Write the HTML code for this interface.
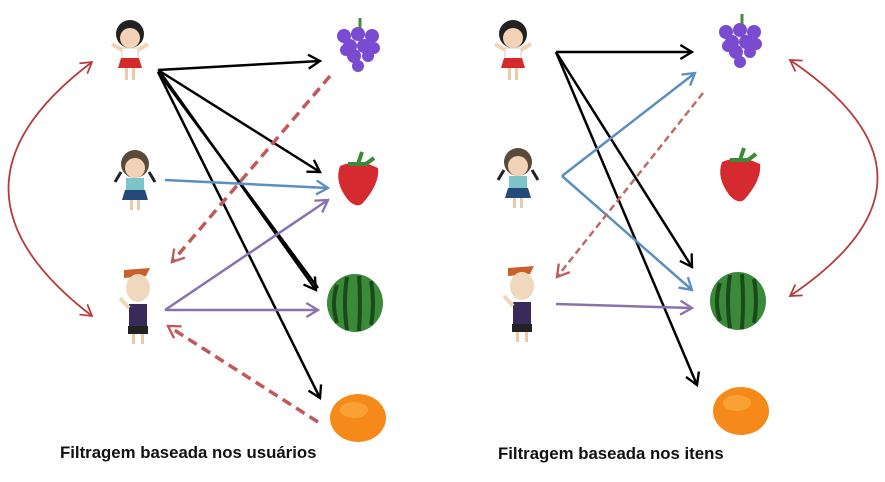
<!DOCTYPE html>
<html><head><meta charset="utf-8"><style>
html,body{margin:0;padding:0;background:#fff;width:885px;height:482px;overflow:hidden}
svg{display:block}
text{font-family:"Liberation Sans",sans-serif;font-weight:bold;font-size:16.8px;fill:#111}
</style></head><body>
<svg width="885" height="482" viewBox="0 0 885 482">
<defs>
<marker id="k" viewBox="0 0 12 12" refX="10" refY="6" markerWidth="14" markerHeight="14" orient="auto" markerUnits="userSpaceOnUse" overflow="visible"><path d="M0,0 L10,6 L0,12" fill="none" stroke="#000" stroke-width="2"/></marker>
<marker id="b" viewBox="0 0 12 12" refX="10" refY="6" markerWidth="14" markerHeight="14" orient="auto" markerUnits="userSpaceOnUse" overflow="visible"><path d="M0,0 L10,6 L0,12" fill="none" stroke="#5b8fc0" stroke-width="2"/></marker>
<marker id="p" viewBox="0 0 12 12" refX="10" refY="6" markerWidth="14" markerHeight="14" orient="auto" markerUnits="userSpaceOnUse" overflow="visible"><path d="M0,0 L10,6 L0,12" fill="none" stroke="#8a72ad" stroke-width="2"/></marker>
<marker id="r" viewBox="0 0 12 12" refX="10" refY="6" markerWidth="14" markerHeight="14" orient="auto" markerUnits="userSpaceOnUse" overflow="visible"><path d="M0,0 L10,6 L0,12" fill="none" stroke="#c05a5a" stroke-width="2"/></marker>
<marker id="c" viewBox="0 0 12 12" refX="10" refY="6" markerWidth="13" markerHeight="13" orient="auto" markerUnits="userSpaceOnUse" overflow="visible"><path d="M0,0 L10,6 L0,12" fill="none" stroke="#b83a3a" stroke-width="1.6"/></marker>
<marker id="cs" viewBox="0 0 12 12" refX="10" refY="6" markerWidth="13" markerHeight="13" orient="auto-start-reverse" markerUnits="userSpaceOnUse" overflow="visible"><path d="M0,0 L10,6 L0,12" fill="none" stroke="#b83a3a" stroke-width="1.6"/></marker>
<g id="g1">
<circle cx="0" cy="-18" r="14" fill="#222"/><circle cx="0" cy="-14" r="10" fill="#f3d2b5"/>
<rect x="-8" y="-4" width="16" height="12" fill="#fff" stroke="#ccc"/>
<path d="M-9,6 L9,6 L12,16 L-12,16Z" fill="#d62a2a"/>
<rect x="-5" y="16" width="3" height="12" fill="#e8c9a8"/><rect x="2" y="16" width="3" height="12" fill="#e8c9a8"/>
<path d="M-8,-2 L-18,-8 M8,-2 L18,-8" stroke="#f3d2b5" stroke-width="4"/>
</g>
<g id="g2">
<circle cx="0" cy="-18" r="14" fill="#5a4a3a"/><circle cx="0" cy="-14" r="10" fill="#f3d2b5"/>
<path d="M-14,-10 L-20,0 M14,-10 L20,0" stroke="#222" stroke-width="3"/>
<rect x="-9" y="-4" width="18" height="12" fill="#7cc4c8"/>
<path d="M-10,8 L10,8 L13,18 L-13,18Z" fill="#234a7a"/>
<rect x="-5" y="18" width="3" height="10" fill="#e8c9a8"/><rect x="2" y="18" width="3" height="10" fill="#e8c9a8"/>
</g>
<g id="g3">
<path d="M-14,-32 L12,-34 L8,-26 L-14,-24Z" fill="#c8602a"/>
<ellipse cx="0" cy="-14" rx="12" ry="14" fill="#f0d8bc"/>
<rect x="-9" y="2" width="18" height="22" fill="#3a2a5a"/>
<rect x="-10" y="24" width="20" height="8" fill="#222"/>
<rect x="-6" y="32" width="3" height="10" fill="#e8c9a8"/><rect x="3" y="32" width="3" height="10" fill="#e8c9a8"/>
<path d="M-9,6 L-18,-4" stroke="#f0d8bc" stroke-width="4"/>
</g>
<g id="grape">
<g fill="#7a4ad0">
<circle cx="-14" cy="-8" r="7"/><circle cx="0" cy="-10" r="7"/><circle cx="14" cy="-8" r="7"/>
<circle cx="-8" cy="2" r="7"/><circle cx="6" cy="2" r="7"/><circle cx="16" cy="4" r="6"/>
<circle cx="-4" cy="12" r="7"/><circle cx="10" cy="12" r="6"/><circle cx="0" cy="22" r="6"/><circle cx="-12" cy="6" r="6"/>
</g><path d="M2,-16 L2,-26" stroke="#4a8a3a" stroke-width="3"/>
</g>
<g id="straw">
<path d="M-18,-12 Q0,-20 20,-10 Q22,6 4,26 Q-2,30 -10,22 Q-24,4 -18,-12Z" fill="#d42a30"/>
<path d="M-10,-14 L8,-14 L16,-20 M0,-14 L4,-26" stroke="#3a8a3a" stroke-width="4" fill="none"/>
</g>
<g id="melon">
<ellipse cx="0" cy="0" rx="28" ry="29" fill="#3a8a3a"/>
<path d="M-18,-18 Q-24,0 -18,20 M-8,-26 Q-12,0 -8,27 M4,-27 Q6,0 4,28 M16,-22 Q20,0 16,22" stroke="#1a4a1a" stroke-width="4" fill="none"/>
</g>
<g id="orange"><ellipse cx="0" cy="0" rx="28" ry="24" fill="#f58a1a"/><ellipse cx="-4" cy="-8" rx="14" ry="8" fill="#fbb04a" opacity="0.6"/></g>
</defs>

<use href="#g1" x="130" y="52"/>
<use href="#g1" x="513" y="52"/>
<use href="#g2" x="135" y="182"/>
<use href="#g2" x="518" y="180"/>
<use href="#g3" x="138" y="302"/>
<use href="#g3" x="522" y="300"/>
<use href="#grape" x="358" y="44"/>
<use href="#grape" x="740" y="40"/>
<use href="#straw" x="358" y="178"/>
<use href="#straw" x="740" y="174"/>
<use href="#melon" x="355" y="303"/>
<use href="#melon" x="738" y="301"/>
<use href="#orange" x="358" y="418"/>
<use href="#orange" x="741" y="411"/>

<g fill="none" stroke-width="2.5">
<line x1="158" y1="70" x2="320" y2="61" stroke="#000" marker-end="url(#k)"/>
<line x1="158" y1="70" x2="320" y2="172" stroke="#000" marker-end="url(#k)"/>
<line x1="160" y1="72" x2="316" y2="290" stroke="#000" marker-end="url(#k)"/>
<line x1="158" y1="72" x2="318" y2="288" stroke="#000"/>
<line x1="158" y1="72" x2="320" y2="398" stroke="#000" marker-end="url(#k)"/>
<line x1="165" y1="180" x2="328" y2="188" stroke="#5b8fc0" marker-end="url(#b)"/>
<line x1="165" y1="310" x2="328" y2="200" stroke="#8a72ad" marker-end="url(#p)"/>
<line x1="165" y1="310" x2="318" y2="310" stroke="#8a72ad" marker-end="url(#p)"/>
<line x1="330" y1="76" x2="172" y2="262" stroke="#c05a5a" stroke-width="3.5" stroke-dasharray="10,6" marker-end="url(#r)"/>
<line x1="318" y1="422" x2="168" y2="326" stroke="#c05a5a" stroke-width="3.5" stroke-dasharray="10,6" marker-end="url(#r)"/>
<path d="M92,62 Q-75,188 92,316" stroke="#b83a3a" stroke-width="1.8" marker-start="url(#cs)" marker-end="url(#c)"/>
</g>
<g fill="none" stroke-width="2.5">
<line x1="556" y1="52" x2="692" y2="52" stroke="#000" marker-end="url(#k)"/>
<line x1="556" y1="52" x2="692" y2="267" stroke="#000" marker-end="url(#k)"/>
<line x1="556" y1="52" x2="697" y2="385" stroke="#000" marker-end="url(#k)"/>
<line x1="562" y1="176" x2="695" y2="73" stroke="#5b8fc0" marker-end="url(#b)"/>
<line x1="562" y1="176" x2="692" y2="290" stroke="#5b8fc0" marker-end="url(#b)"/>
<line x1="703" y1="93" x2="557" y2="277" stroke="#c06a6a" stroke-width="2.5" stroke-dasharray="7,4" marker-end="url(#r)"/>
<line x1="556" y1="304" x2="692" y2="308" stroke="#8a72ad" marker-end="url(#p)"/>
<path d="M790,60 Q965,178 790,296" stroke="#b83a3a" stroke-width="1.8" marker-start="url(#cs)" marker-end="url(#c)"/>
</g>

<text x="60" y="458">Filtragem baseada nos usuários</text>
<text x="498" y="459">Filtragem baseada nos itens</text>
</svg>
</body></html>
